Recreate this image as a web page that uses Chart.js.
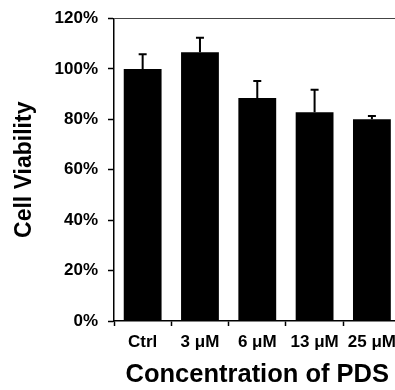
<!DOCTYPE html>
<html>
<head>
<meta charset="utf-8">
<script src="https://cdn.jsdelivr.net/npm/chart.js@4"></script>
<style>
  html, body { margin:0; padding:0; background:#fff; overflow:hidden; }
  #wrap { width:402px; height:390px; }
</style>
</head>
<body>
<div id="wrap"><canvas id="c" width="402" height="390"></canvas></div>
<script>
// data
const labels = ['Ctrl', '3 μM', '6 μM', '13 μM', '25 μM'];
const viability = [100, 106.6, 88.5, 82.8, 80.0];
const errUp = [5.8, 5.8, 6.7, 8.9, 1.3];
const yTicks = [0, 20, 40, 60, 80, 100, 120];

const FONT = "'Liberation Sans', Arial, sans-serif";

// upper error bars only
const errorBars = {
  id: 'errorBars',
  afterDatasetsDraw(chart) {
    const meta = chart.getDatasetMeta(0);
    const y = chart.scales.y;
    const ctx = chart.ctx;
    ctx.save();
    ctx.strokeStyle = '#000';
    ctx.lineWidth = 2;
    meta.data.forEach((bar, i) => {
      const top = y.getPixelForValue(viability[i] + errUp[i]);
      ctx.beginPath();
      ctx.moveTo(bar.x, bar.y);
      ctx.lineTo(bar.x, top);
      ctx.moveTo(bar.x - 4, top);
      ctx.lineTo(bar.x + 4, top);
      ctx.stroke();
    });
    ctx.restore();
  }
};

new Chart(document.getElementById('c'), {
  type: 'bar',
  data: { labels: labels, datasets: [{ data: viability, backgroundColor: '#000', borderWidth: 0, barPercentage: 0.66, categoryPercentage: 1 }] },
  options: {
    responsive: false,
    animation: false,
    layout: { padding: { top: 16, right: 0, bottom: 0, left: 0 } },
    plugins: { legend: { display: false }, tooltip: { enabled: false } },
    scales: {
      x: {
        afterFit: s => { s.height = 69; },
        grid: { drawOnChartArea: false, tickLength: 5, tickColor: '#000', tickWidth: 1.5 },
        border: { color: '#000', width: 1.5 },
        ticks: { color: '#000', padding: 6, maxRotation: 0, font: { family: FONT, size: 17, weight: 'bold' } },
        title: { display: true, text: 'Concentration of PDS', color: '#000', padding: { top: 0, bottom: 0 },
                 font: { family: FONT, size: 25.5, weight: 'bold' } }
      },
      y: {
        min: 0, max: 120,
        afterFit: s => { s.width = 114; },
        afterBuildTicks: s => { s.ticks = yTicks.map(v => ({ value: v })); },
        grid: {
          color: c => (c.tick && c.tick.value === 120) ? '#444' : 'rgba(0,0,0,0)',
          tickColor: '#000', tickLength: 6, tickWidth: 1.5
        },
        border: { color: '#000', width: 1.5 },
        ticks: { color: '#000', padding: 10, callback: v => v + '%', font: { family: FONT, size: 17, weight: 'bold', lineHeight: 1 } },
        title: { display: true, text: 'Cell Viability', color: '#000', padding: { top: 11, bottom: 0 },
                 font: { family: FONT, size: 23, weight: 'bold' } }
      }
    }
  },
  plugins: [errorBars]
});
</script>
</body>
</html>
